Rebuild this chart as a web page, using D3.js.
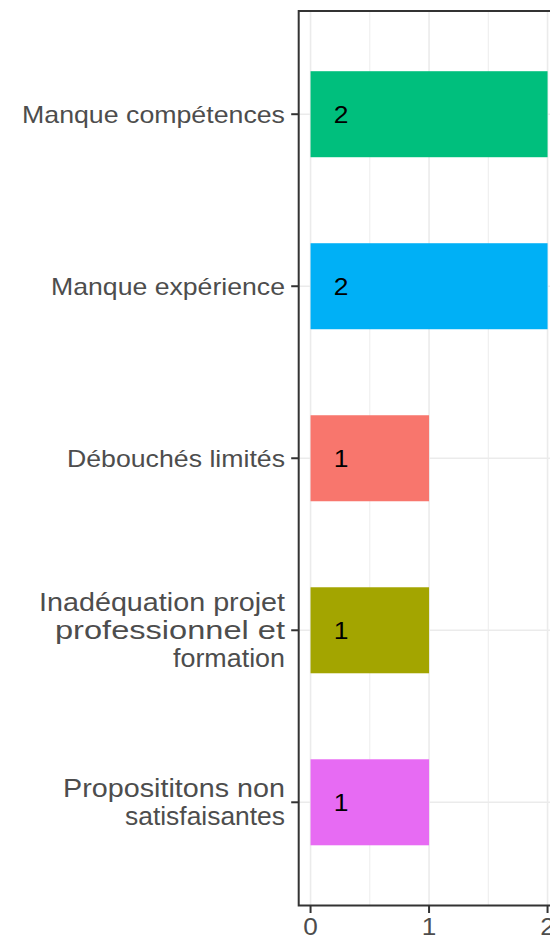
<!DOCTYPE html>
<html>
<head>
<meta charset="utf-8">
<script src="https://cdn.jsdelivr.net/npm/d3@7"></script>
<style>
  html, body { margin: 0; padding: 0; background: #fff; overflow: hidden; }
  svg { display: block; }
</style>
</head>
<body>
<svg id="chart" width="550" height="940"></svg>
<script>
// ---- data ----
const categories = [
  "Manque compétences",
  "Manque expérience",
  "Débouchés limités",
  "Inadéquation projet\nprofessionnel et\nformation",
  "Proposititons non\nsatisfaisantes"
];
const counts = [2, 2, 1, 1, 1];
const colors = ["#00BF7D", "#00B0F6", "#F8766D", "#A3A500", "#E76BF3"];
const xTicks = [0, 1, 2];
const xMinorTicks = [0.5, 1.5];
const labelPos = 0.25;

// ---- styling: rendered widths of each label line in the reference (px) ----
const lineWidths = {
  "Manque compétences": 263,
  "Manque expérience": 234,
  "Débouchés limités": 218,
  "Inadéquation projet": 246,
  "professionnel et": 230,
  "formation": 112,
  "Proposititons non": 222,
  "satisfaisantes": 160
};

// ---- layout ----
const svg = d3.select("#chart");
const panel = { left: 298.7, right: 559.4, top: 11, bottom: 905.5 };
const sx = 1.1; // horizontal text stretch seen in reference

const x = d3.scaleLinear().domain([-0.1, 2.1]).range([panel.left, panel.right]);
const y = d3.scalePoint().domain(categories).range([panel.top, panel.bottom]).padding(0.6);
const step = y.step();
const barH = step * 0.5;

const g = svg.append("g");

// grid
g.selectAll("line.minor").data(xMinorTicks).join("line")
  .attr("x1", d => x(d)).attr("x2", d => x(d))
  .attr("y1", panel.top).attr("y2", panel.bottom)
  .attr("stroke", "#EBEBEB").attr("stroke-width", 0.9);
g.selectAll("line.majx").data(xTicks).join("line")
  .attr("x1", d => x(d)).attr("x2", d => x(d))
  .attr("y1", panel.top).attr("y2", panel.bottom)
  .attr("stroke", "#EBEBEB").attr("stroke-width", 1.6);
g.selectAll("line.majy").data(categories).join("line")
  .attr("x1", panel.left).attr("x2", panel.right)
  .attr("y1", d => y(d)).attr("y2", d => y(d))
  .attr("stroke", "#EBEBEB").attr("stroke-width", 1.6);

// bars
g.selectAll("rect.bar").data(categories).join("rect")
  .attr("x", x(0))
  .attr("y", d => y(d) - barH / 2)
  .attr("width", (d, i) => x(counts[i]) - x(0))
  .attr("height", barH)
  .attr("fill", (d, i) => colors[i]);

// value labels
g.selectAll("text.val").data(categories).join("text")
  .attr("transform", d => `translate(${x(labelPos) + 1},${y(d) + 9}) scale(${sx},1)`)
  .attr("text-anchor", "middle")
  .attr("font-family", "Liberation Sans, Arial, sans-serif")
  .attr("font-size", 24)
  .attr("fill", "#000")
  .text((d, i) => counts[i]);

// panel border
g.append("rect")
  .attr("x", panel.left).attr("y", panel.top)
  .attr("width", panel.right - panel.left).attr("height", panel.bottom - panel.top)
  .attr("fill", "none").attr("stroke", "#333333").attr("stroke-width", 2);

// y axis ticks + labels
g.selectAll("line.yt").data(categories).join("line")
  .attr("x1", panel.left - 7.5).attr("x2", panel.left)
  .attr("y1", d => y(d)).attr("y2", d => y(d))
  .attr("stroke", "#333333").attr("stroke-width", 2);

const lineH = 28;
const labelRight = 285;
categories.forEach(c => {
  const lines = c.split("\n");
  const n = lines.length;
  const fs = n > 1 ? 26.2 : 23.8;
  lines.forEach((t, k) => {
    const by = y(c) + 8.5 + (k - (n - 1) / 2) * lineH;
    const w = lineWidths[t];
    const txt = g.append("text")
      .attr("x", labelRight - w)
      .attr("y", by)
      .attr("text-anchor", "start")
      .attr("font-family", "Liberation Sans, Arial, sans-serif")
      .attr("font-size", fs)
      .attr("fill", "#4D4D4D")
      .attr("textLength", w)
      .attr("lengthAdjust", "spacingAndGlyphs")
      .text(t);
  });
});

// x axis ticks + labels
g.selectAll("line.xt").data(xTicks).join("line")
  .attr("x1", d => x(d)).attr("x2", d => x(d))
  .attr("y1", panel.bottom).attr("y2", panel.bottom + 7.5)
  .attr("stroke", "#333333").attr("stroke-width", 2);
g.selectAll("text.xl").data(xTicks).join("text")
  .attr("transform", d => `translate(${x(d)},935) scale(${sx},1)`)
  .attr("text-anchor", "middle")
  .attr("font-family", "Liberation Sans, Arial, sans-serif")
  .attr("font-size", 23.8)
  .attr("fill", "#4D4D4D")
  .text(d => d);
</script>
</body>
</html>
